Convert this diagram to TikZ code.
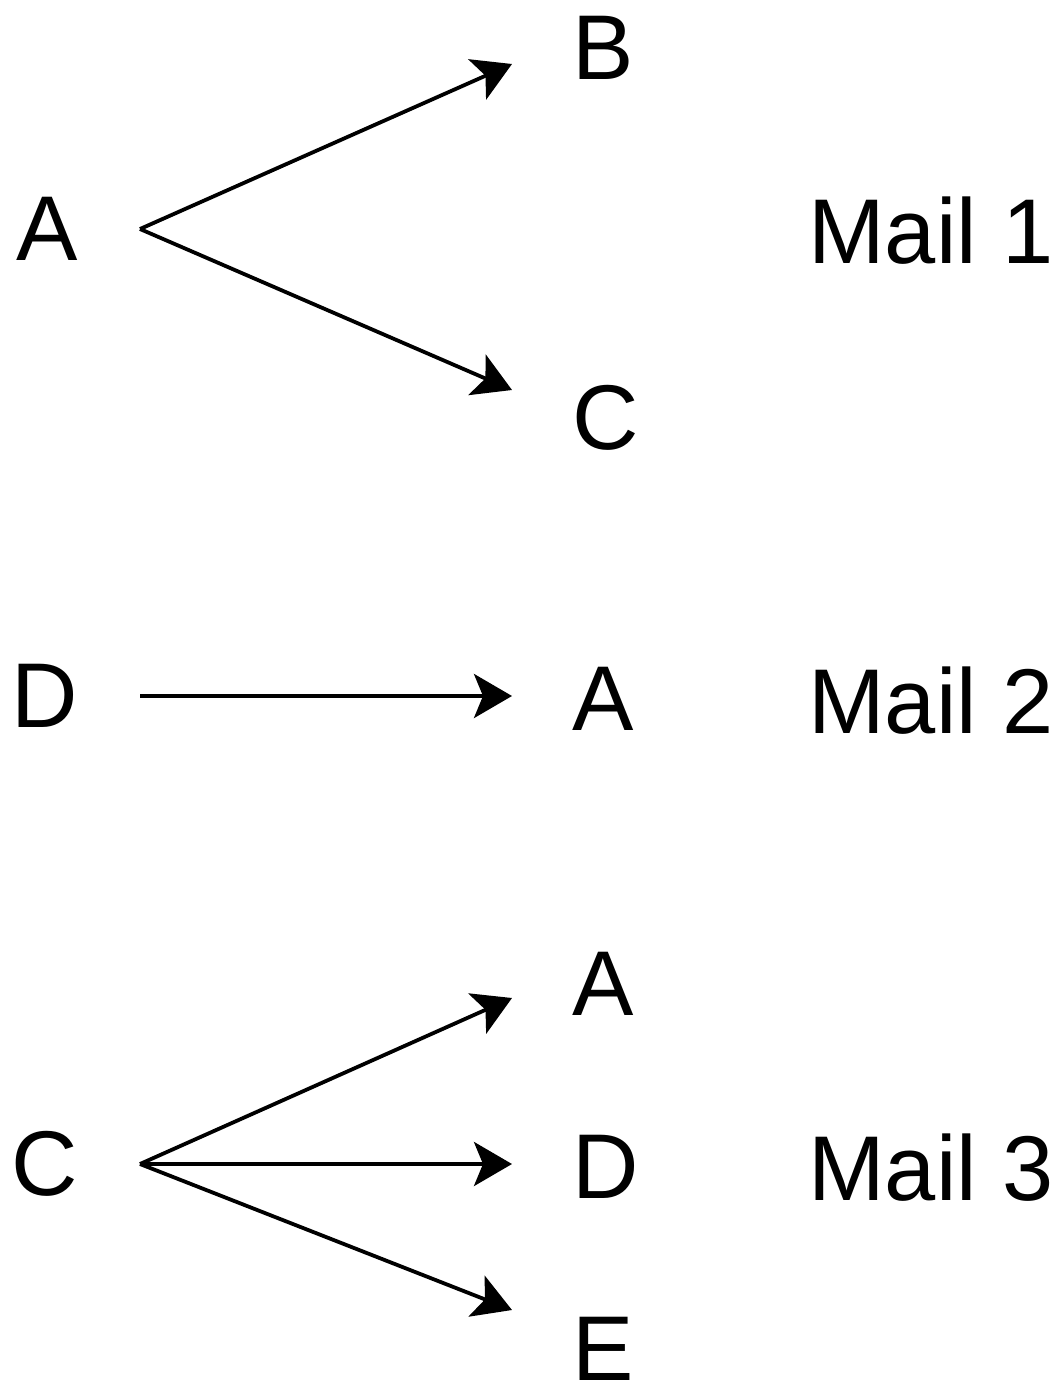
\documentclass[tikz,border=0pt]{standalone}
\usepackage{fontspec}
\setmainfont{Liberation Sans}
\usetikzlibrary{arrows.meta}

\begin{document}
\begin{tikzpicture}[x=0.5pt,y=-0.5pt,
    letter/.style={font=\fontsize{46}{55}\selectfont, inner ysep=0pt},
    src/.style={letter, inner xsep=31pt, anchor=east},
    dst/.style={letter, inner xsep=30pt, anchor=west},
    arr/.style={-{Stealth[length=19pt,width=22pt,inset=4.5pt]}, line width=1.9pt}]
    \useasboundingbox (0,0) rectangle (1059,1386);
    % Mail labels on the right
    \foreach \i/\y in {1/231,2/701,3/1168} {
      \node[letter] (mail\i) at (931,\y) {Mail \i};
    }
    % Mail 1: A sends to B and C
    \node[src] (a1) at (140,229) {A};
    \node[dst] (b1) at (512,48) {B};
    \node[dst] (c1) at (512,418) {C};
    \draw[arr] (a1.east) -- ([yshift=-8pt]b1.west);
    \draw[arr] (a1.east) -- ([yshift=14pt]c1.west);
    % Mail 2: D sends to A
    \node[src] (d2) at (140,696) {D};
    \node[dst] (a2) at (512,699) {A};
    \draw[arr] (d2.east) -- ([yshift=1.5pt]a2.west);
    % Mail 3: C sends to A, D and E
    \node[src] (c3) at (140,1164) {C};
    \node[dst] (a3) at (512,984) {A};
    \node[dst] (d3) at (512,1167) {D};
    \node[dst] (e3) at (512,1349) {E};
    \foreach \t/\s in {a3/-7pt,d3/1.5pt,e3/19.5pt} {
      \draw[arr] (c3.east) -- ([yshift=\s]\t.west);
    }
  \end{tikzpicture}
\end{document}
